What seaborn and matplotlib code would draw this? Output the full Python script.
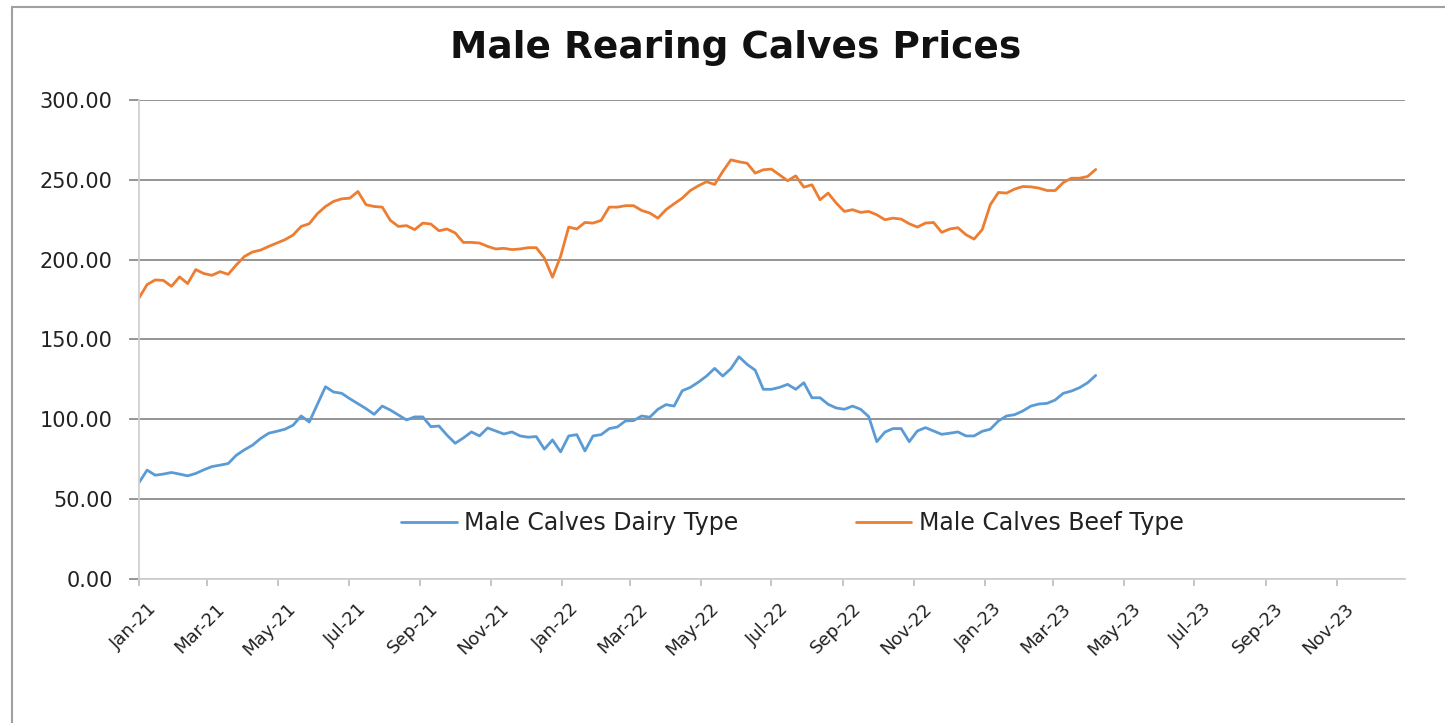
import pandas as pd
import matplotlib
matplotlib.use("Agg")
import matplotlib.pyplot as plt
import matplotlib.dates as mdates
import matplotlib.transforms as mtransforms
from matplotlib.lines import Line2D
from matplotlib.ticker import FormatStrFormatter
import seaborn as sns

# weekly prices, first week of Jan 2021 to mid April 2023
start_date = "2021-01-01"
dairy = [
    60.4, 68.2, 65.0, 65.7, 66.7, 65.7, 64.6, 66.1, 68.4, 70.4,
    71.3, 72.3, 77.5, 80.9, 83.8, 88.0, 91.3, 92.5, 93.8, 96.3,
    102.1, 98.3, 109.4, 120.4, 117.1, 116.3, 112.9, 109.8, 106.7, 103.1,
    108.3, 105.8, 102.7, 99.6, 101.5, 101.5, 95.4, 95.8, 90.0, 85.0,
    88.3, 92.1, 89.6, 94.6, 92.7, 90.8, 92.1, 89.6, 88.8, 89.2,
    81.3, 87.1, 79.6, 89.6, 90.4, 80.2, 89.6, 90.4, 94.2, 95.2,
    99.0, 99.2, 102.1, 101.3, 106.3, 109.2, 108.3, 117.9, 120.0, 123.3,
    127.1, 131.9, 127.1, 131.7, 139.2, 134.4, 130.8, 118.8, 118.8, 120.0,
    121.9, 118.8, 122.9, 113.5, 113.5, 109.4, 107.1, 106.3, 108.3, 106.3,
    101.7, 86.0, 92.0, 94.2, 94.2, 86.0, 92.7, 94.8, 92.7, 90.6,
    91.3, 92.1, 89.6, 89.6, 92.5, 93.8, 99.0, 102.1, 102.9, 105.2,
    108.3, 109.6, 110.0, 112.1, 116.3, 117.7, 119.8, 122.9, 127.5,
]
beef = [
    176.0, 184.4, 187.3, 187.0, 183.3, 189.2, 185.0, 193.8, 191.3, 190.2,
    192.5, 190.8, 196.7, 202.0, 204.8, 206.0, 208.3, 210.4, 212.5, 215.4,
    220.8, 222.5, 228.8, 233.3, 236.5, 238.1, 238.5, 242.7, 234.4, 233.3,
    232.9, 224.6, 220.8, 221.3, 218.8, 222.9, 222.3, 218.1, 219.2, 216.7,
    210.8, 210.8, 210.4, 208.3, 206.7, 207.1, 206.3, 206.7, 207.5, 207.5,
    201.0, 189.0, 202.1, 220.4, 219.2, 223.3, 222.9, 224.6, 232.9, 232.9,
    233.8, 233.8, 230.8, 229.2, 226.0, 231.3, 235.0, 238.5, 243.3, 246.3,
    248.8, 247.1, 255.2, 262.5, 261.3, 260.4, 254.2, 256.3, 256.7, 253.1,
    249.4, 252.5, 245.4, 246.9, 237.5, 241.7, 235.4, 230.2, 231.3, 229.6,
    230.2, 228.1, 225.0, 226.0, 225.4, 222.5, 220.4, 222.9, 223.3, 217.1,
    219.2, 220.0, 215.6, 212.9, 218.8, 234.4, 242.1, 241.7, 244.2, 245.8,
    245.6, 244.8, 243.3, 243.3, 248.3, 251.0, 251.0, 252.1, 256.5,
]
series_names = ["Male Calves Dairy Type", "Male Calves Beef Type"]
colors = ["#5b9bd5", "#ed7d31"]
y_ticks = [0, 50, 100, 150, 200, 250, 300]

dates = pd.date_range(start_date, periods=len(dairy), freq="7D")
df = pd.concat([
    pd.DataFrame({"date": dates, "price": dairy, "series": series_names[0]}),
    pd.DataFrame({"date": dates, "price": beef, "series": series_names[1]}),
])

sns.set_theme(style="white")
plt.rcParams["font.family"] = ["DejaVu Sans"]

fig = plt.figure(figsize=(14.45, 7.23), dpi=100)
ax = fig.add_axes([0.0962, 0.1992, 0.8761, 0.6625])

sns.lineplot(data=df, x="date", y="price", hue="series", palette=colors,
             linewidth=2.0, ax=ax, legend=False)

ax.set_ylim(0, 300)
ax.set_yticks(y_ticks)
ax.yaxis.set_major_formatter(FormatStrFormatter("%.2f"))
ax.set_xlim(pd.Timestamp("2021-01-01"), pd.Timestamp("2023-12-30"))
ax.xaxis.set_major_locator(mdates.MonthLocator(bymonth=[1, 3, 5, 7, 9, 11]))
ax.xaxis.set_major_formatter(mdates.DateFormatter("%b-%y"))

ax.yaxis.grid(True, color="#8c8c8c", linewidth=1.3)
ax.set_axisbelow(True)
for side in ["top", "right"]:
    ax.spines[side].set_visible(False)
ax.spines["left"].set_color("#d0d0d0")
ax.spines["bottom"].set_color("#d0d0d0")
ax.spines["left"].set_linewidth(1.3)
ax.spines["bottom"].set_linewidth(1.3)

ax.tick_params(axis="y", which="major", left=True, length=7, width=1.3,
               color="#8c8c8c", labelsize=15, labelcolor="#222222", pad=12)
ax.tick_params(axis="x", which="major", bottom=True, length=5, width=1.3,
               color="#c0c0c0", labelsize=13, labelcolor="#222222", pad=10)
shift = mtransforms.ScaledTranslation(6 / 72, 0, fig.dpi_scale_trans)
for lbl in ax.get_xticklabels():
    lbl.set_rotation(45)
    lbl.set_ha("right")
    lbl.set_rotation_mode("anchor")
    lbl.set_transform(lbl.get_transform() + shift)

ax.set_xlabel("")
ax.set_ylabel("")

handles = [Line2D([0], [0], color=c, linewidth=2.0) for c in colors]
ax.legend(handles, series_names, loc="center", bbox_to_anchor=(0.516, 0.117),
          ncol=2, frameon=False, fontsize=17, handlelength=2.35,
          columnspacing=5.0, handletextpad=0.3, labelcolor="#222222")

fig.text(0.509, 0.934, "Male Rearing Calves Prices", ha="center", va="center",
         fontsize=27, fontweight="bold", color="#111111")

# outer chart frame (cropped on right and bottom)
fig.add_artist(Line2D([0.0083, 0.0083], [0.0, 0.990], color="#a0a0a0",
                      linewidth=1.5, transform=fig.transFigure))
fig.add_artist(Line2D([0.0083, 1.0], [0.990, 0.990], color="#a0a0a0",
                      linewidth=1.5, transform=fig.transFigure))

fig.savefig("out.png", dpi=100)
